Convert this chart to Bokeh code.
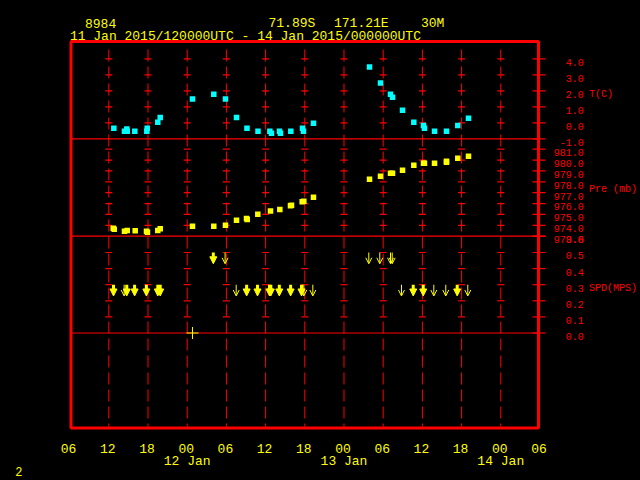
from bokeh.plotting import figure
from bokeh.models import Range1d, ColumnDataSource, Arrow, NormalHead, OpenHead
from bokeh.core.properties import value
from bokeh.embed import file_html
from bokeh.resources import INLINE

# ---------------- header texts ----------------
STATION = "8984"
LATITUDE = "71.89S"
LONGITUDE = "171.21E"
ELEVATION = "30M"
PERIOD = "11 Jan 2015/120000UTC - 14 Jan 2015/000000UTC"
PAGE_NO = "2"

# ---------------- data (hours since 11 Jan 2015 06 UTC) ----------------
T_HOURS = [6.77, 8.40, 8.82, 8.76, 9.98, 11.82, 11.88, 13.50, 13.87, 18.81,
           22.07, 23.86, 25.55, 27.15, 28.84, 30.65, 30.90, 32.13, 32.28, 33.86,
           35.65, 35.80, 37.33, 45.91, 47.59, 49.12, 49.43, 50.96, 52.69, 54.17,
           54.32, 55.86, 57.69, 59.42, 61.06]
T_VALUES = [-0.34, -0.53, -0.53, -0.38, -0.53, -0.53, -0.34, 0.04, 0.33, 1.48,
            1.79, 1.48, 0.33, -0.34, -0.53, -0.53, -0.65, -0.53, -0.65, -0.53,
            -0.34, -0.53, -0.03, 3.48, 2.48, 1.79, 1.60, 0.79, 0.04, -0.17,
            -0.34, -0.53, -0.53, -0.17, 0.29]

P_HOURS = [6.67, 6.83, 8.40, 8.82, 10.04, 11.77, 11.92, 13.50, 13.87, 18.81,
           22.07, 23.86, 25.55, 27.08, 27.19, 28.81, 30.75, 32.18, 33.81, 33.97,
           35.60, 35.85, 37.33, 45.91, 47.59, 49.12, 49.43, 50.96, 52.69, 54.17,
           54.32, 55.86, 57.69, 57.69, 59.42, 61.06]
P_VALUES = [973.74, 973.64, 973.46, 973.52, 973.50, 973.46, 973.37, 973.52, 973.68, 973.92,
            973.92, 974.01, 974.47, 974.63, 974.54, 975.02, 975.32, 975.46, 975.80, 975.85,
            976.16, 976.22, 976.59, 978.24, 978.52, 978.79, 978.79, 979.07, 979.53, 979.71,
            979.71, 979.71, 979.90, 979.80, 980.17, 980.36]

W_HOURS = [6.72, 8.35, 8.75, 9.95, 11.75, 13.50, 13.87, 22.00, 23.80, 25.50,
           27.10, 28.76, 30.60, 30.80, 32.10, 33.83, 35.50, 35.85, 37.23, 45.80,
           47.48, 49.12, 49.38, 50.80, 52.60, 54.13, 55.75, 57.58, 59.33, 60.95]
W_SPEEDS = [0.3, 0.3, 0.3, 0.3, 0.3, 0.3, 0.3, 0.5, 0.5, 0.3,
            0.3, 0.3, 0.3, 0.3, 0.3, 0.3, 0.3, 0.3, 0.3, 0.5,
            0.5, 0.5, 0.5, 0.3, 0.3, 0.3, 0.3, 0.3, 0.3, 0.3]
W_STYLE = ["bold", "thin", "bold", "bold", "bold", "bold", "bold", "bold", "thin", "thin",
           "bold", "bold", "bold", "bold", "bold", "bold", "bold", "thin", "thin", "thin",
           "thin", "thin", "thin", "thin", "bold", "bold", "thin", "thin", "bold", "thin"]
CALM_HOURS = [18.81]
CALM_SPEEDS = [0.0]

T_TICKS = [-1.0, 0.0, 1.0, 2.0, 3.0, 4.0]
P_TICKS = [973.0, 974.0, 975.0, 976.0, 977.0, 978.0, 979.0, 980.0, 981.0]
S_TICKS = [0.0, 0.1, 0.2, 0.3, 0.4, 0.5, 0.6]
X_TICK_HOURS = [0, 6, 12, 18, 24, 30, 36, 42, 48, 54, 60, 66, 72]
X_TICK_LABELS = ["06", "12", "18", "00", "06", "12", "18", "00", "06", "12", "18", "00", "06"]
DATE_HOURS = [18, 42, 66]
DATE_LABELS = ["12 Jan", "13 Jan", "14 Jan"]
GRID_HOURS = [6, 12, 18, 24, 30, 36, 42, 48, 54, 60, 66]

# ---------------- layout geometry (window pixels) ----------------
FIG_W, FIG_H = 640, 480
PX_LEFT, PX_TOP = 0, 0
PX_RIGHT, PX_BOTTOM = PX_LEFT + FIG_W, PX_TOP + FIG_H
HOUR0_PX, PX_PER_HOUR = 69.1, 6.533

RED = "#ff0000"
YEL = "#ffff00"
CYAN = "#00ffff"
FONT = value("Liberation Mono")


def data_range(ref_val, ref_px, px_per_unit):
    return Range1d(start=ref_val - (PX_BOTTOM - ref_px) / px_per_unit,
                   end=ref_val + (ref_px - PX_TOP) / px_per_unit)


p = figure(width=FIG_W, height=FIG_H,
           x_range=Range1d((PX_LEFT - HOUR0_PX) / PX_PER_HOUR, (PX_RIGHT - HOUR0_PX) / PX_PER_HOUR),
           y_range=Range1d(PX_BOTTOM, PX_TOP),
           output_backend="svg", toolbar_location=None, min_border=0,
           x_axis_location=None, y_axis_location=None,
           background_fill_color="black", border_fill_color="black",
           outline_line_color=None)
p.extra_x_ranges = {"px": Range1d(PX_LEFT, PX_RIGHT)}
p.extra_y_ranges = {"t": data_range(-1.0, 138.3, 16.0),
                    "p": data_range(973.0, 235.7, 10.875),
                    "s": data_range(0.0, 332.5, 161.0)}
for g in p.grid:
    g.visible = False


def txt(x, y, s, size, color, align="left", xr="default", yr="default", **kw):
    p.text(x=x, y=y, text=s, text_font=FONT, text_font_size=size,
           text_color=color, text_align=align, text_baseline="alphabetic",
           x_range_name=xr, y_range_name=yr, **kw)


# vertical dashed grid lines
p.segment(x0=GRID_HOURS, x1=GRID_HOURS, y0=[49] * len(GRID_HOURS), y1=[426] * len(GRID_HOURS),
          line_color=RED, line_width=1, line_dash="12 5")

# cross bars on the grid lines
for rng, ticks in (("t", T_TICKS[1:]), ("p", P_TICKS[1:]), ("s", S_TICKS[1:-1])):
    xs = [h for h in GRID_HOURS for _ in ticks]
    ys = [v for _ in GRID_HOURS for v in ticks]
    p.scatter(x=xs, y=ys, marker="dash", size=7, line_color=RED, line_width=1.2,
              y_range_name=rng)

# panel separators
for rng, v in (("t", -1.0), ("p", 973.0), ("s", 0.0)):
    p.segment(x0=[70.5], x1=[538], y0=[v], y1=[v], line_color=RED, line_width=1.2,
              x_range_name="px", y_range_name=rng)

# right-hand ticks and labels
for rng, ticks in (("t", T_TICKS), ("p", P_TICKS), ("s", S_TICKS)):
    p.segment(x0=[532] * len(ticks), x1=[545] * len(ticks), y0=ticks, y1=ticks,
              line_color=RED, line_width=1.2, x_range_name="px", y_range_name=rng)
    txt([583.3] * len(ticks), ticks, [f"{v:.1f}" for v in ticks], "10px", RED,
        align="right", xr="px", yr=rng, y_offset=3.4)

txt([588.5], [93.6], ["T(C)"], "10px", RED, xr="px")
txt([588.5], [189.2], ["Pre (mb)"], "10px", RED, xr="px")
txt([588.5], [287.8], ["SPD(MPS)"], "10px", RED, xr="px")

# outer frame
p.quad(left=[70.5], right=[538], top=[41], bottom=[427.5], fill_color=None,
       line_color=RED, line_width=3, x_range_name="px")

# temperature
p.scatter(x=T_HOURS, y=T_VALUES, marker="square", size=5.5, fill_color=CYAN,
          line_color=None, y_range_name="t")
# pressure
p.scatter(x=P_HOURS, y=P_VALUES, marker="square", size=5.5, fill_color=YEL,
          line_color=None, y_range_name="p")

# wind arrows
ARROW_LEN = 0.07
for style, width, head in (("thin", 1, OpenHead(size=6, line_color=YEL, line_width=1)),
                           ("bold", 3, NormalHead(size=7, fill_color=YEL, line_color=YEL, line_width=1))):
    xs = [h for h, s in zip(W_HOURS, W_STYLE) if s == style]
    ys = [v for v, s in zip(W_SPEEDS, W_STYLE) if s == style]
    src = ColumnDataSource(dict(x=xs, y0=ys, y1=[v - ARROW_LEN for v in ys]))
    p.add_layout(Arrow(end=head, x_start="x", y_start="y0", x_end="x", y_end="y1",
                       source=src, line_color=YEL, line_width=width, y_range_name="s"))

p.scatter(x=CALM_HOURS, y=CALM_SPEEDS, marker="cross", size=12, line_color=YEL,
          line_width=1, y_range_name="s")

# header
txt([84.5], [22.7], [STATION], "13px", YEL, xr="px")
txt([268.0], [22.7], [LATITUDE], "13px", YEL, xr="px")
txt([333.5], [22.7], [LONGITUDE], "13px", YEL, xr="px")
txt([420.4], [22.7], [ELEVATION], "13px", YEL, xr="px")
txt([69.4], [36.0], [PERIOD], "13px", YEL, xr="px")

# time axis labels
txt(X_TICK_HOURS, [448.3] * len(X_TICK_HOURS), X_TICK_LABELS, "13px", YEL, align="center",
    x_offset=-1)
txt(DATE_HOURS, [460.7] * len(DATE_HOURS), DATE_LABELS, "13px", YEL, align="center")
txt([18.4], [471.0], [PAGE_NO], "12px", YEL, align="center", xr="px")

TEMPLATE = """
{% block preamble %}
<style>html, body { background: #000000; }</style>
{% endblock %}
"""

open("out.html", "w").write(file_html(p, INLINE, title="8984 meteogram", template=TEMPLATE))
